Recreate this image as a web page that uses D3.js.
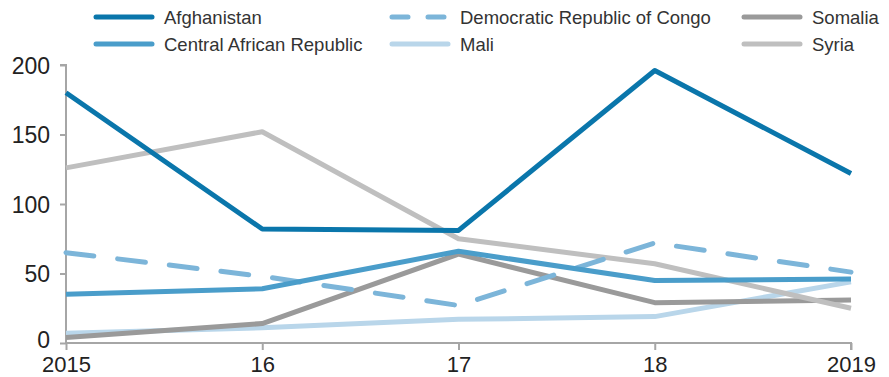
<!DOCTYPE html>
<html><head><meta charset="utf-8">
<script src="https://cdn.jsdelivr.net/npm/d3@7"></script>
<style>body{margin:0;background:#fff}svg{display:block;font-family:"Liberation Sans",Arial,Helvetica,sans-serif}</style>
</head><body><svg id="c" width="889" height="377"></svg>
<script>
const years = [2015, 2016, 2017, 2018, 2019];
const yearLabels = ["2015", "16", "17", "18", "2019"];
const yTicks = [0, 50, 100, 150, 200];
const afghanistan = [180, 82, 81, 196, 122];
const car = [35, 39, 66, 45, 46];
const drc = [65, 48, 27, 72, 51];
const somalia = [4, 14, 64, 29, 31];
const mali = [7, 11, 17, 19, 44];
const syria = [126, 152, 75, 57, 25];
const seriesNames = ["Afghanistan", "Central African Republic", "Democratic Republic of Congo", "Mali", "Somalia", "Syria"];
const seriesValues = [afghanistan, car, drc, mali, somalia, syria];
const seriesColors = ["#0a76ab", "#4a9dca", "#7cb5d9", "#b9d6ea", "#9a9a9a", "#bfbfbf"];
const seriesDash = [null, null, "28,24", null, null, null];
const drawOrder = [3, 4, 5, 2, 1, 0];

const svg = d3.select("#c");
const x = d3.scaleLinear().domain([2015, 2019]).range([66, 851]);
const y = d3.scaleLinear().domain([0, 200]).range([343, 65]);
const axisColor = "#a6a6a6";

// y axis
const ya = svg.append("g").attr("transform", "translate(66,0)")
  .call(d3.axisLeft(y).tickValues(yTicks).tickSize(6).tickPadding(10));
ya.select(".domain").attr("stroke", axisColor).attr("stroke-width", 2).attr("d", `M-6,${y(200)}H0V${y(0)}`);
ya.selectAll(".tick line").attr("stroke", axisColor).attr("stroke-width", 2);
ya.selectAll(".tick text").attr("font-size", 23).attr("fill", "#222").attr("font-family", "Liberation Sans, Arial, sans-serif").attr("dy", "0.36em");
ya.selectAll(".tick").filter(d => d === 0).select("text").attr("dy", "0.2em");

// x axis
const xa = svg.append("g").attr("transform", `translate(0,${y(0)})`)
  .call(d3.axisBottom(x).tickValues(years).tickFormat((d, i) => yearLabels[i]).tickSize(7).tickPadding(4));
xa.select(".domain").attr("stroke", axisColor).attr("stroke-width", 2).attr("d", `M66,0H851V7`);
xa.selectAll(".tick line").attr("stroke", axisColor).attr("stroke-width", 2);
xa.selectAll(".tick text").attr("font-size", 22).attr("fill", "#222").attr("font-family", "Liberation Sans, Arial, sans-serif").attr("y", 29).attr("dy", 0);

const line = d3.line().x((d, i) => x(years[i])).y(d => y(d));
drawOrder.forEach(k => {
  svg.append("path").datum(seriesValues[k]).attr("d", line)
    .attr("fill", "none").attr("stroke", seriesColors[k]).attr("stroke-width", 5)
    .attr("stroke-linejoin", "round").attr("stroke-linecap", k === 2 ? "round" : "butt")
    .attr("stroke-dasharray", seriesDash[k]);
});

// legend
const legCols = [96, 392, 744];
const legRows = [17, 44];
const legendPos = [[0,0],[0,1],[1,0],[1,1],[2,0],[2,1]];
seriesNames.forEach((n, k) => {
  const [c, r] = legendPos[k];
  const lx = legCols[c], ly = legRows[r];
  svg.append("line").attr("x1", lx).attr("x2", lx + 56).attr("y1", ly).attr("y2", ly)
    .attr("stroke", seriesColors[k]).attr("stroke-width", 5).attr("stroke-linecap", "round")
    .attr("stroke-dasharray", k === 2 ? "16,20" : null);
  svg.append("text").attr("x", lx + 68).attr("y", ly).attr("dy", "0.36em")
    .attr("font-size", 18.5).attr("fill", "#333").text(n);
});
</script></body></html>
